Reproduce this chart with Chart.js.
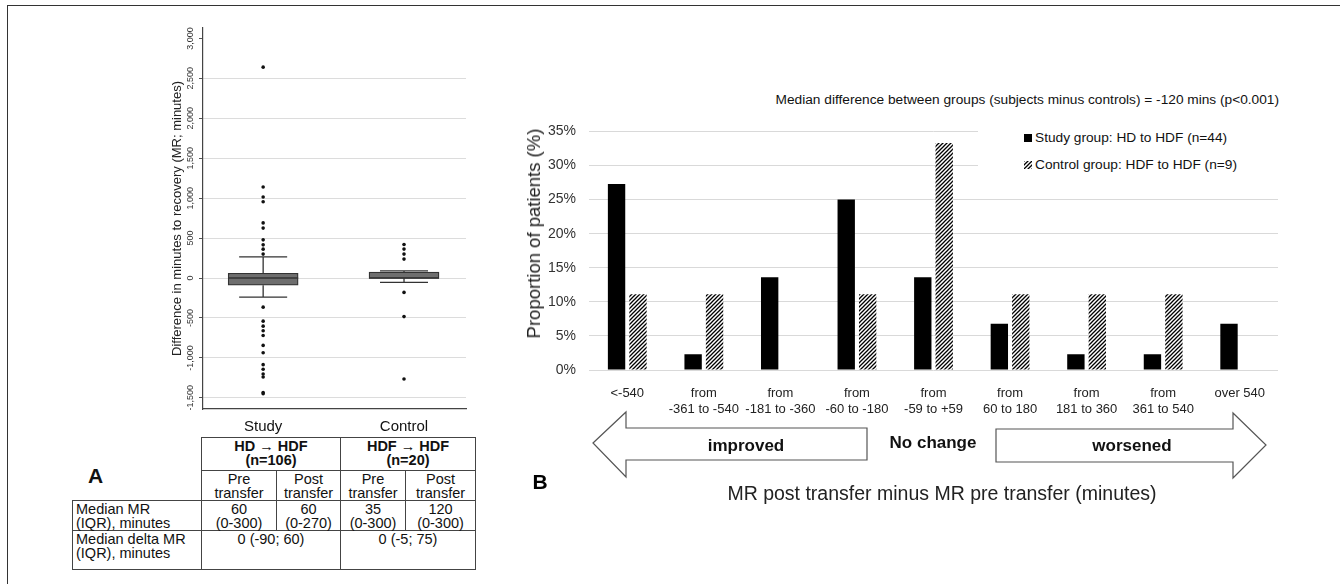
<!DOCTYPE html>
<html lang="en">
<head>
    <meta charset="UTF-8">
    <title>Minutes to recovery after transfer</title>
    <script src="https://cdn.jsdelivr.net/npm/chart.js@4.4.1/dist/chart.umd.min.js"></script>
    <style>
        body {
            margin: 0;
            width: 1340px;
            height: 584px;
            position: relative;
            overflow: hidden;
            background: #fff;
            font-family: "Liberation Sans", Arial, sans-serif;
            color: #111;
        }
        .abs { position: absolute; }
        #frame {
            left: 7px; top: 5px;
            width: 1400px; height: 700px;
            border-left: 1.5px solid #333;
            border-top: 1.5px solid #333;
        }
        #boxChart { left: 150px; top: 15px; }
        #barChart { left: 500px; top: 110px; }
        #medianNote {
            right: 61px; top: 92px;
            font-size: 13.7px; white-space: nowrap;
        }
        #legendB {
            left: 978px; top: 126px;
            width: 300px; height: 56px;
            background: #fff;
            font-size: 13.7px;
        }
        .legItem { position: absolute; left: 46px; white-space: nowrap; }
        .legItem span.mark {
            display: inline-block; width: 8px; height: 8px;
            margin-right: 3px; vertical-align: 0px;
        }
        #tableA {
            left: 72px; top: 437px;
            border-collapse: collapse;
            font-size: 14.5px;
            line-height: 14px;
        }
        #tableA td {
            border: 1px solid #444;
            text-align: center;
            vertical-align: top;
            padding: 1px 1px 0 1px;
            white-space: nowrap;
        }
        #tableA td.lbl { text-align: left; padding-left: 3px; }
        #tableA td.blank { border: none; }
        .panel { font-weight: bold; font-size: 21px; }
    </style>
</head>
<body>
    <div id="frame" class="abs"></div>
    <canvas id="boxChart" class="abs" width="320" height="422"></canvas>
    <canvas id="barChart" class="abs" width="778" height="305"></canvas>

    <div id="medianNote" class="abs">Median difference between groups (subjects minus controls) = -120 mins (p&lt;0.001)</div>
    <div id="legendB" class="abs">
        <div class="legItem" style="top:4px"><span class="mark" style="background:#000"></span>Study group: HD to HDF (n=44)</div>
        <div class="legItem" style="top:31px"><span class="mark" id="hatchMark"></span>Control group: HDF to HDF (n=9)</div>
    </div>

    <div class="abs panel" style="left:88px; top:464px;">A</div>
    <table id="tableA" class="abs">
        <colgroup>
            <col style="width:129px"><col style="width:75px"><col style="width:64px"><col style="width:65px"><col style="width:70px">
        </colgroup>
        <tr style="height:33px">
            <td class="blank"></td>
            <td colspan="2"><b>HD &#8594; HDF<br>(n=106)</b></td>
            <td colspan="2"><b>HDF &#8594; HDF<br>(n=20)</b></td>
        </tr>
        <tr style="height:30px">
            <td class="blank"></td>
            <td>Pre<br>transfer</td><td>Post<br>transfer</td><td>Pre<br>transfer</td><td>Post<br>transfer</td>
        </tr>
        <tr style="height:27px">
            <td class="lbl">Median MR<br>(IQR), minutes</td>
            <td>60<br>(0-300)</td><td>60<br>(0-270)</td><td>35<br>(0-300)</td><td>120<br>(0-300)</td>
        </tr>
        <tr style="height:39px">
            <td class="lbl">Median delta MR<br>(IQR), minutes</td>
            <td colspan="2">0 (-90; 60)</td><td colspan="2">0 (-5; 75)</td>
        </tr>
    </table>

    <svg class="abs" style="left:0; top:0" width="1340" height="584">
        <polygon points="593,443 626,412 626,428 867,428 867,460 626,460 626,477" fill="#fff" stroke="#555" stroke-width="1.2"/>
        <polygon points="996,429 1233,429 1233,413 1266,445 1233,478 1233,462 996,462" fill="#fff" stroke="#555" stroke-width="1.2"/>
        <g font-family="Liberation Sans, Arial, sans-serif" font-weight="bold" font-size="17" text-anchor="middle" dominant-baseline="central" fill="#111">
            <text x="746" y="445">improved</text>
            <text x="933" y="442">No change</text>
            <text x="1132" y="445">worsened</text>
        </g>
        <text x="540" y="481" font-family="Liberation Sans, Arial, sans-serif" font-weight="bold" font-size="21" text-anchor="middle" dominant-baseline="central">B</text>
        <text x="942" y="493" font-family="Liberation Sans, Arial, sans-serif" font-size="19.5" text-anchor="middle" dominant-baseline="central" fill="#222">MR post transfer minus MR pre transfer (minutes)</text>
        <text x="0" y="0" transform="translate(533,233.5) rotate(-90)" font-family="Liberation Sans, Arial, sans-serif" font-size="18.5" text-anchor="middle" dominant-baseline="central" fill="#222">Proportion of patients (%)</text>
    </svg>

    <script>
        // Panel A: box plot of change in minutes to recovery
        const boxGroups = ['Study', 'Control'];
        const boxQ1 = [-90, -5];
        const boxMedian = [0, 0];
        const boxQ3 = [60, 75];
        const whiskerLow = [-240, -55];
        const whiskerHigh = [265, 90];
        const studyOutliers = [2640, 1140, 1015, 955, 690, 625, 478, 415, 361, 299,
            -365, -540, -603, -661, -719, -844, -935, -1085, -1143, -1201, -1239, -1434, -1450];
        const controlOutliers = [420, 362, 299, 237, -180, -483, -1264];
        const yTicksA = [-1500, -1000, -500, 0, 500, 1000, 1500, 2000, 2500, 3000];

        // Panel B: distribution of change categories
        const mrCategories = [
            ['<-540'], ['from', '-361 to -540'], ['from', '-181 to -360'], ['from', '-60 to -180'],
            ['from', '-59 to +59'], ['from', '60 to 180'], ['from', '181 to 360'], ['from', '361 to 540'], ['over 540']
        ];
        const studyPct = [27.3, 2.3, 13.6, 25.0, 13.6, 6.8, 2.3, 2.3, 6.8];
        const controlPct = [11.1, 11.1, 0, 11.1, 33.3, 11.1, 11.1, 11.1, 0];
        const yTicksB = [0, 5, 10, 15, 20, 25, 30, 35];

        function makeHatch(ctx) {
            const c = document.createElement('canvas');
            c.width = 4; c.height = 4;
            const g = c.getContext('2d');
            g.fillStyle = '#fff';
            g.fillRect(0, 0, 4, 4);
            g.strokeStyle = '#000';
            g.lineWidth = 1.3;
            g.beginPath();
            g.moveTo(0, 4); g.lineTo(4, 0);
            g.moveTo(-1, 1); g.lineTo(1, -1);
            g.moveTo(3, 5); g.lineTo(5, 3);
            g.stroke();
            return ctx.createPattern(c, 'repeat');
        }

        // whiskers, medians and rotated tick labels (Stata style)
        const boxExtras = {
            id: 'boxExtras',
            afterDatasetsDraw(chart) {
                const ctx = chart.ctx;
                const xs = chart.scales.x, ys = chart.scales.y;
                ctx.save();
                ctx.strokeStyle = '#333';
                ctx.lineWidth = 1.3;
                boxGroups.forEach((g, i) => {
                    const x = xs.getPixelForValue(i + 1);
                    const hi = ys.getPixelForValue(whiskerHigh[i]);
                    const lo = ys.getPixelForValue(whiskerLow[i]);
                    const q1 = ys.getPixelForValue(boxQ1[i]);
                    const q3 = ys.getPixelForValue(boxQ3[i]);
                    const md = ys.getPixelForValue(boxMedian[i]);
                    ctx.beginPath();
                    ctx.moveTo(x, q3); ctx.lineTo(x, hi);
                    ctx.moveTo(x - 24, hi); ctx.lineTo(x + 24, hi);
                    ctx.moveTo(x, q1); ctx.lineTo(x, lo);
                    ctx.moveTo(x - 24, lo); ctx.lineTo(x + 24, lo);
                    ctx.moveTo(x - 35, md); ctx.lineTo(x + 35, md);
                    ctx.stroke();
                });
                ctx.fillStyle = '#333';
                ctx.font = '9px "Liberation Sans", Arial, sans-serif';
                ctx.textAlign = 'center';
                ctx.textBaseline = 'middle';
                yTicksA.forEach(v => {
                    ctx.save();
                    ctx.translate(ys.right - 12, ys.getPixelForValue(v));
                    ctx.rotate(-Math.PI / 2);
                    ctx.fillText(v.toLocaleString('en-US'), 0, 0);
                    ctx.restore();
                });
                ctx.restore();
            }
        };

        new Chart(document.getElementById('boxChart'), {
            type: 'bar',
            data: {
                datasets: [
                    {
                        type: 'bar',
                        data: boxGroups.map((g, i) => ({ x: i + 1, y: [boxQ1[i], boxQ3[i]] })),
                        backgroundColor: '#6e6e6e',
                        borderColor: '#333',
                        borderWidth: 1.3,
                        borderSkipped: false,
                        barThickness: 70
                    },
                    {
                        type: 'scatter',
                        data: studyOutliers.map(v => ({ x: 1, y: v }))
                            .concat(controlOutliers.map(v => ({ x: 2, y: v }))),
                        pointRadius: 1.8,
                        backgroundColor: '#111',
                        borderWidth: 0
                    }
                ]
            },
            options: {
                responsive: false,
                animation: false,
                layout: { padding: { top: 13 } },
                plugins: { legend: { display: false }, tooltip: { enabled: false } },
                scales: {
                    x: {
                        type: 'linear',
                        offset: false,
                        min: 0.573,
                        max: 2.44,
                        afterBuildTicks: a => { a.ticks = boxGroups.map((g, i) => ({ value: i + 1 })); },
                        ticks: {
                            callback: v => boxGroups[v - 1],
                            font: { family: '"Liberation Sans", Arial, sans-serif', size: 15 },
                            color: '#111',
                            padding: 1,
                            maxRotation: 0
                        },
                        grid: { display: false },
                        border: { display: true, color: '#444', width: 1.2 },
                        afterFit: a => { a.height = 28; }
                    },
                    y: {
                        min: -1640,
                        max: 3130,
                        afterBuildTicks: a => { a.ticks = yTicksA.map(v => ({ value: v })); },
                        ticks: { display: false },
                        grid: {
                            color: c => (c.tick && c.tick.value === 3000) ? 'rgba(0,0,0,0)' : '#dcdcdc',
                            tickColor: '#555',
                            tickLength: 4
                        },
                        border: { display: true, color: '#444', width: 1.2 },
                        title: {
                            display: true,
                            text: 'Difference in minutes to recovery (MR; minutes)',
                            font: { family: '"Liberation Sans", Arial, sans-serif', size: 13 },
                            color: '#222',
                            padding: { top: 20, bottom: 0 }
                        },
                        afterFit: a => { a.width = 53; }
                    }
                }
            },
            plugins: [boxExtras]
        });

        const barCanvas = document.getElementById('barChart');
        const hatch = makeHatch(barCanvas.getContext('2d'));

        // legend swatch uses the same hatch
        const hm = document.createElement('canvas');
        hm.width = 8; hm.height = 8;
        const hctx = hm.getContext('2d');
        hctx.fillStyle = makeHatch(hctx);
        hctx.fillRect(0, 0, 8, 8);
        const hatchMark = document.getElementById('hatchMark');
        hatchMark.style.backgroundImage = 'url(' + hm.toDataURL() + ')';

        new Chart(barCanvas, {
            type: 'bar',
            data: {
                labels: mrCategories,
                datasets: [
                    {
                        label: 'Study group: HD to HDF (n=44)',
                        data: studyPct,
                        backgroundColor: '#000',
                        barPercentage: 0.81,
                        categoryPercentage: 0.56
                    },
                    {
                        label: 'Control group: HDF to HDF (n=9)',
                        data: controlPct,
                        backgroundColor: hatch,
                        barPercentage: 0.81,
                        categoryPercentage: 0.56
                    }
                ]
            },
            options: {
                responsive: false,
                animation: false,
                layout: { padding: { top: 12 } },
                plugins: { legend: { display: false }, tooltip: { enabled: false } },
                scales: {
                    y: {
                        min: 0,
                        max: 35,
                        afterBuildTicks: a => { a.ticks = yTicksB.map(v => ({ value: v })); },
                        ticks: {
                            callback: v => v + '%',
                            font: { family: '"Liberation Sans", Arial, sans-serif', size: 14 },
                            color: '#333',
                            padding: 13
                        },
                        grid: { color: '#d9d9d9', drawTicks: false },
                        border: { display: false },
                        afterFit: a => { a.width = 89; }
                    },
                    x: {
                        grid: { display: false },
                        border: { display: false },
                        ticks: {
                            font: { family: '"Liberation Sans", Arial, sans-serif', size: 13 },
                            color: '#222',
                            maxRotation: 0,
                            autoSkip: false,
                            padding: 8
                        },
                        afterFit: a => { a.height = 45; }
                    }
                }
            }
        });
    </script>
</body>
</html>
